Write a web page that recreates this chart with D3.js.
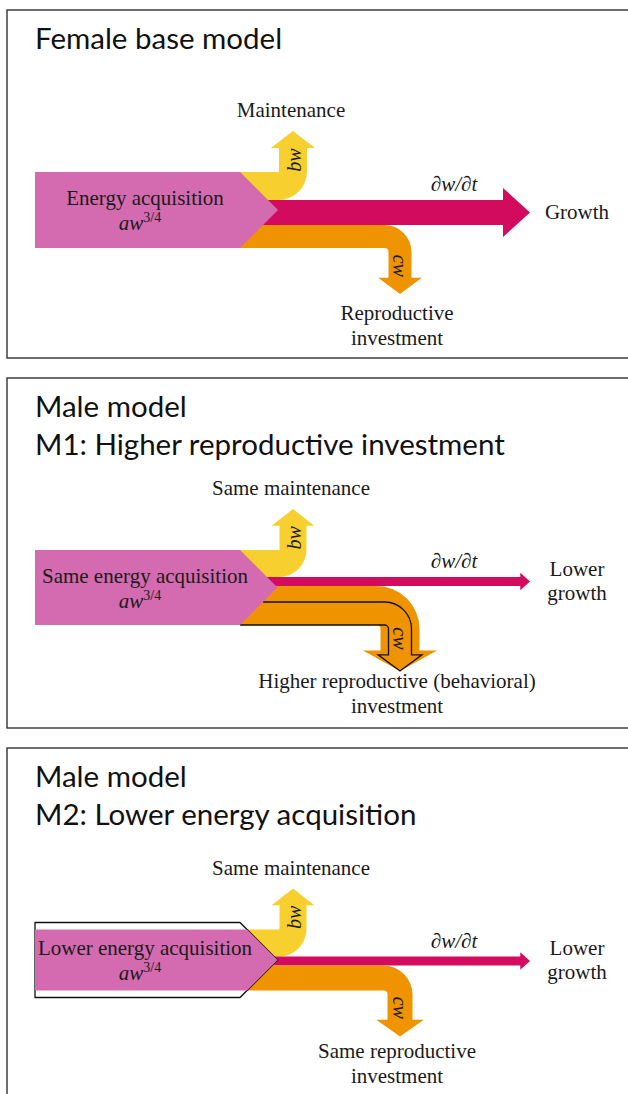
<!DOCTYPE html>
<html>
<head>
<meta charset="utf-8">
<script src="https://cdn.jsdelivr.net/npm/d3@7"></script>
<style>
  body { margin: 0; background: #fff; }
  svg { display: block; }
</style>
</head>
<body>
<div id="chart"></div>
<script>
// panel texts
const panelTitles = [
  ["Female base model"],
  ["Male model", "M1: Higher reproductive investment"],
  ["Male model", "M2: Lower energy acquisition"]
]
const acquisitionLabels = ["Energy acquisition", "Same energy acquisition", "Lower energy acquisition"]
const maintenanceLabels = ["Maintenance", "Same maintenance", "Same maintenance"]
const growthLabels = [["Growth"], ["Lower", "growth"], ["Lower", "growth"]]
const reproductionLabels = [
  ["Reproductive", "investment"],
  ["Higher reproductive (behavioral)", "investment"],
  ["Same reproductive", "investment"]
]

// flow sizes (energy units)
const acquisition = [76, 75, 61]
const maintenance = [28, 27, 27]
const growth = [25, 9, 9]
const reproduction = [23, 39, 25]
// female reference flows, drawn as black outlines in the male models
const baseAcquisition = [null, null, 75]
const baseReproduction = [null, 23, null]

const width = 628, height = 1094
const colors = { acq: "#d46bb0", maint: "#f7cf2e", growth: "#d30b5e", repro: "#f09300" }
const serif = "'Liberation Serif', 'Times New Roman', serif"
const sans = "Lato, 'Open Sans', sans-serif"

// layout
const panelTop = [10, 378, 748]
const panelHeight = [348, 350, 400]
const boxCenter = [200, 209.5, 212]   // relative to panel top

// band width scale: energy units -> px
const bw = d3.scaleLinear().domain([0, 100]).range([0, 100])
// horizontal layout
const x = d3.scaleLinear().domain([0, 1]).range([35, 530])
const boxLeft = x(0), chevronX = 240, growthTip = x(1)
const maintX = 293, reproX = 400, textX = 145, labelX = 577, dwX = 454

const svg = d3.select("#chart").append("svg")
  .attr("width", width)
  .attr("height", height)

// band that bends up (dir -1) or down (dir 1) into an arrow
function bendPath(xStart, xEnd, yt, w, cx, dir, ri, tipY, hw, hh, closed) {
  const xl = cx - w / 2, xr = cx + w / 2, yb = yt + w, ro = ri + w
  const p = d3.path()
  if (dir > 0) {
    const baseY = tipY - hh
    p.moveTo(xStart, yt)
    p.lineTo(xl - ri, yt)
    p.arc(xl - ri, yb + ri, ro, -Math.PI / 2, 0)
    p.lineTo(xr, baseY)
    p.lineTo(cx + hw, baseY)
    p.lineTo(cx, tipY)
    p.lineTo(cx - hw, baseY)
    p.lineTo(xl, baseY)
    p.lineTo(xl, yb + ri)
    p.arc(xl - ri, yb + ri, ri, 0, -Math.PI / 2, true)
    p.lineTo(xEnd, yb)
  } else {
    const baseY = tipY + hh
    p.moveTo(xStart, yt)
    p.lineTo(xl - ri, yt)
    p.arc(xl - ri, yt - ri, ri, Math.PI / 2, 0, true)
    p.lineTo(xl, baseY)
    p.lineTo(cx - hw, baseY)
    p.lineTo(cx, tipY)
    p.lineTo(cx + hw, baseY)
    p.lineTo(xr, baseY)
    p.lineTo(xr, yt - ri)
    p.arc(xl - ri, yt - ri, ro, 0, Math.PI / 2)
    p.lineTo(xEnd, yb)
  }
  if (closed) p.closePath()
  return p.toString()
}

panelTitles.forEach((titles, i) => {
  const top = panelTop[i]
  const g = svg.append("g")
  g.append("rect")
    .attr("x", 7).attr("y", top)
    .attr("width", 800).attr("height", panelHeight[i])
    .attr("fill", "none").attr("stroke", "#333").attr("stroke-width", 1.4)

  titles.forEach((t, k) => g.append("text")
    .attr("x", 35).attr("y", top + 39 + k * 38)
    .attr("font-family", sans).attr("font-size", 29.5).attr("fill", "#111")
    .text(t))

  const cy = top + boxCenter[i]
  const H = bw(baseAcquisition[i] || acquisition[i])
  const tipX = chevronX + H / 2
  const diag = y => tipX - Math.abs(y - cy)
  const y0 = cy - bw(acquisition[i]) / 2
  const yM = y0 + bw(maintenance[i])
  const yG = yM + bw(growth[i])
  const yR = yG + bw(reproduction[i])

  // maintenance (up)
  const mw = bw(maintenance[i])
  const mTip = y0 - 41
  const mHead = 10 + mw * 0.25
  g.append("path")
    .attr("d", bendPath(chevronX, chevronX, y0, mw, maintX, -1, 0.5, mTip, mw * 0.79, mHead, true))
    .attr("fill", colors.maint)

  // growth (straight)
  const gw = bw(growth[i])
  const gLen = gw * 1.08, gHalf = gw * 0.98, gc = yM + gw / 2
  g.append("path")
    .attr("d", d3.line()([
      [chevronX, yM], [growthTip - gLen, yM], [growthTip - gLen, gc - gHalf],
      [growthTip, gc], [growthTip - gLen, gc + gHalf], [growthTip - gLen, yG], [chevronX, yG]
    ]) + "Z")
    .attr("fill", colors.growth)

  // reproduction (down)
  const rw = bw(reproduction[i])
  const rTip = yR + 46
  const rHead = 10 + rw * 0.27
  g.append("path")
    .attr("d", bendPath(chevronX, chevronX, yG, rw, reproX, 1, 4, rTip, rw * 0.95, rHead, true))
    .attr("fill", colors.repro)

  // female reference reproduction outline
  if (baseReproduction[i]) {
    const bwid = bw(baseReproduction[i])
    const yt = yR - bwid
    g.append("path")
      .attr("d", bendPath(diag(yt), diag(yR), yt, bwid, reproX, 1, 4, rTip, bwid * 0.95, 10 + bwid * 0.27, false))
      .attr("fill", "none").attr("stroke", "#111").attr("stroke-width", 1.3)
  }

  // female reference acquisition outline
  if (baseAcquisition[i]) {
    g.append("path")
      .attr("d", d3.line()([
        [boxLeft, cy - H / 2], [chevronX, cy - H / 2], [tipX, cy], [chevronX, cy + H / 2], [boxLeft, cy + H / 2]
      ]) + "Z")
      .attr("fill", "#fff").attr("stroke", "#111").attr("stroke-width", 1.3)
  }

  // acquisition box
  const y1 = cy + bw(acquisition[i]) / 2
  g.append("path")
    .attr("d", d3.line()([
      [boxLeft, y0], [diag(y0), y0], [tipX, cy], [diag(y1), y1], [boxLeft, y1]
    ]) + "Z")
    .attr("fill", colors.acq)

  // labels
  const txt = (xx, yy, s, opts = {}) => g.append("text")
    .attr("x", xx).attr("y", yy)
    .attr("text-anchor", opts.anchor || "middle")
    .attr("font-family", serif).attr("font-size", opts.size || 21)
    .attr("font-style", opts.italic ? "italic" : null)
    .attr("fill", "#1a1a1a")
    .text(s)

  txt(textX, cy - 5, acquisitionLabels[i])
  const aw = txt(textX - 5, cy + 20, "aw", { italic: true })
  aw.append("tspan").attr("dy", -8).attr("font-style", "normal").attr("font-size", 14).text("3/4")

  txt(maintX - 2, mTip - 14, maintenanceLabels[i])
  txt(dwX, yM - 9, "∂w/∂t", { italic: true })
  const nG = growthLabels[i].length
  growthLabels[i].forEach((s, k) => txt(labelX, gc + 6 + (k - (nG - 1) / 2) * 24, s))
  reproductionLabels[i].forEach((s, k) => txt(reproX - 3, top + 310 + k * 25, s))

  // rotated flow labels, reading along the flow
  txt(0, 0, "bw", { italic: true, size: 20 })
    .attr("dominant-baseline", "central")
    .attr("transform", `translate(${maintX + 1},${mTip + mHead + 12}) rotate(-90)`)
  txt(0, 0, "cw", { italic: true, size: 20 })
    .attr("dominant-baseline", "central")
    .attr("transform", `translate(${reproX},${rTip - rHead - 12}) rotate(90)`)
})
</script>
</body>
</html>
